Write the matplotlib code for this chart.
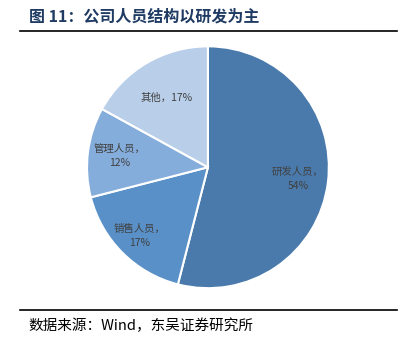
import numpy as np
import matplotlib.pyplot as plt

plt.rcParams['font.family'] = ['Noto Sans CJK SC', 'DejaVu Sans']

categories = ["研发人员", "销售人员", "管理人员", "其他"]
shares = [54, 17, 12, 17]
label_texts = ["研发人员，\n54%", "销售人员，\n17%", "管理人员，\n12%", "其他，17%"]
colors = ["#4a7aab", "#5990c8", "#85addb", "#b9cfe9"]
label_radius = [0.75, 0.8, 0.74, 0.67]

fig = plt.figure(figsize=(4.14, 3.51), dpi=100)
ax = fig.add_axes([0.210, 0.179, 0.5845, 0.689])
wedges, _ = ax.pie(shares, colors=colors, startangle=90, counterclock=False,
                   wedgeprops=dict(edgecolor="white", linewidth=1.5))
ax.set_xlim(-1, 1)
ax.set_ylim(-1, 1)
ax.set_aspect("equal")

for w, txt, r in zip(wedges, label_texts, label_radius):
    ang = np.deg2rad((w.theta1 + w.theta2) / 2)
    ax.text(r * np.cos(ang), r * np.sin(ang), txt, ha="center", va="center",
            fontsize=7.5, color="#404040", linespacing=1.5)

# title and rules
fig.text(0.07, 0.952, "图 11：公司人员结构以研发为主", fontsize=11.5, fontweight="bold",
         color="#1f3b63", ha="left", va="center")
fig.add_artist(plt.Line2D([0.048, 0.958], [0.912, 0.912], color="black", lw=1.2))
fig.add_artist(plt.Line2D([0.048, 0.958], [0.117, 0.117], color="black", lw=1.2))
fig.text(0.068, 0.073, "数据来源：Wind，东吴证券研究所", fontsize=10.5, color="black",
         ha="left", va="center")

fig.savefig("out.png", dpi=100)
